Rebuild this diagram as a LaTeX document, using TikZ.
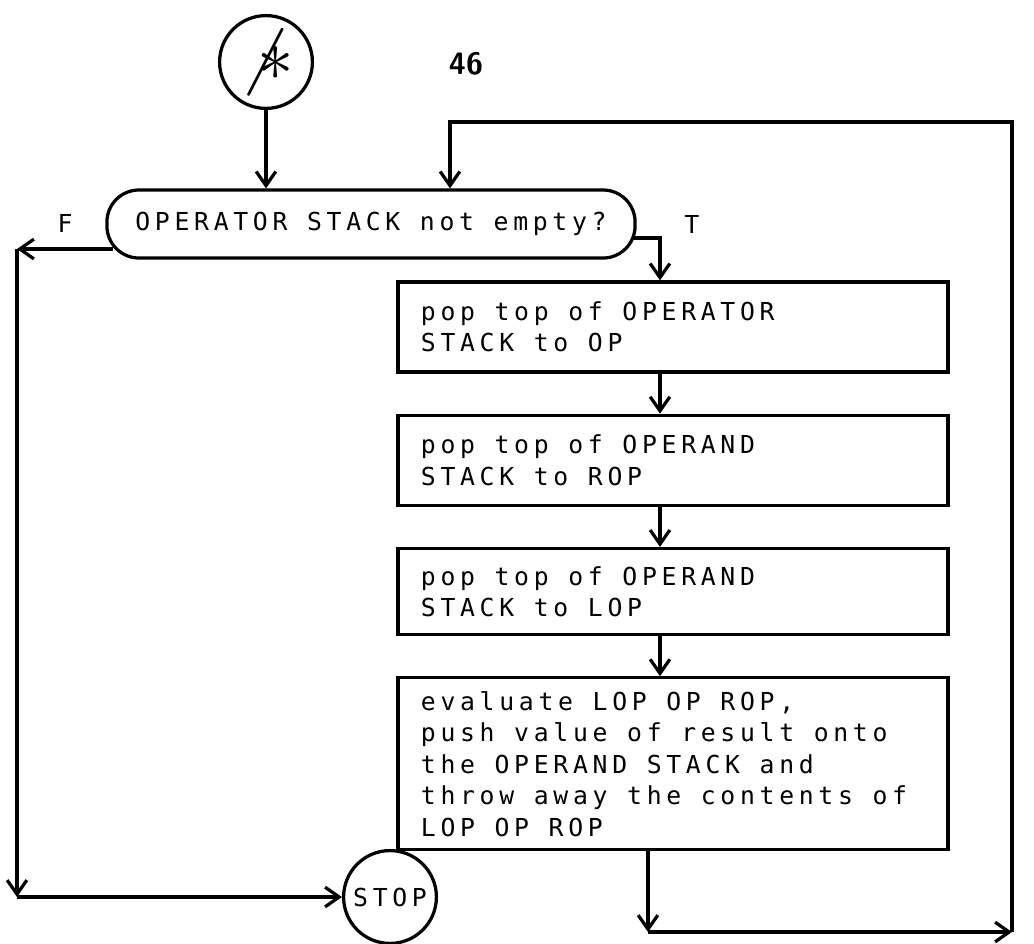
\documentclass[tikz,border=0pt]{standalone}
\usepackage{fontspec}
\usepackage{tikz}
\usetikzlibrary{arrows.meta,positioning,calc}
\newfontfamily\lpfont[LetterSpace=19]{DejaVu Sans Mono}

\begin{document}
\begin{tikzpicture}[
  x=0.025cm, y=-0.025cm,
  font=\lpfont\fontsize{17.6}{22.4}\selectfont,
  line width=2.3pt,
  box/.style={draw, align=flush left, text width=12.6cm, inner xsep=0.575cm,
              minimum height=2.25cm},
  term/.style={draw, circle, inner sep=0pt, minimum size=2.32cm},
  test/.style={draw, rounded corners=0.8cm, minimum width=13.2cm,
               minimum height=1.7cm},
  arr/.style={-{Straight Barb[length=10pt, width=14pt]}}]

\useasboundingbox (0,0) rectangle (1034,943);

\node[term] (start) at (266,62) {\scalebox{3}{$\not\ast$}};
\node[font=\sffamily\bfseries\fontsize{22}{22}\selectfont] (pg) at (466,64) {46};
\node[test] (chk) at (371,224) {OPERATOR STACK not empty?};

\node[box] (popop) at (673,327) {pop top of OPERATOR\\STACK to OP};
\node[box, below=1cm of popop] (poprop) {pop top of OPERAND\\STACK to ROP};
\node[box, below=1cm of poprop, minimum height=2.15cm] (poplop)
  {pop top of OPERAND\\STACK to LOP};
\node[box, below=1cm of poplop, minimum height=4.3cm] (eval)
  {evaluate LOP OP ROP,\\push value of result onto\\the OPERAND STACK and\\
   \mbox{throw away the contents of}\\LOP OP ROP};
\node[term] (stop) at (390,897) {STOP};

% corners of the connectors
\coordinate (fend) at (17,249);
\coordinate (fbot) at (17,897);
\coordinate (lbot) at (648,932);
\coordinate (rbot) at (1012,932);
\coordinate (ltop) at (450,122);

\draw[arr] (start) -- (start |- chk.north);
\draw[arr] ($(chk.west)+(8,25)$) -- node[above=0.25cm]{F} (fend);
\draw[arr] (fend) -- (fbot);
\draw[arr] (fbot) -- (stop);

\draw[arr] ($(chk.east)+(-3,14)$) -| node[pos=0.5, right=0.45cm, yshift=0.35cm]{T}
  ($(popop.north)+(-13,0)$);
\foreach \a/\b in {popop/poprop, poprop/poplop, poplop/eval}
  \draw[arr] ($(\a.south)+(-13,0)$) -- ($(\b.north)+(-13,0)$);

\draw[arr] (eval.south -| lbot) -- (lbot);
\draw[arr] (lbot) -- (rbot);
\draw[arr] (rbot) |- (ltop) -- (ltop |- chk.north);
\end{tikzpicture}
\end{document}
